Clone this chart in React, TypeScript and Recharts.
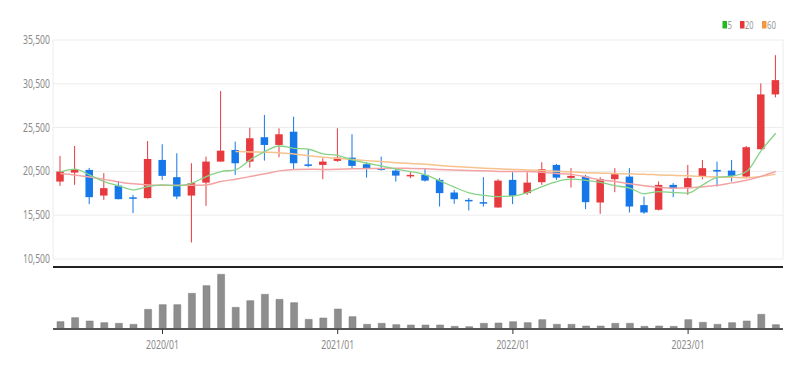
import React from 'react';
import { ComposedChart, Bar, Line, XAxis, YAxis, CartesianGrid } from 'recharts';

const months = [
  '2019/06', '2019/07', '2019/08', '2019/09', '2019/10', '2019/11', '2019/12',
  '2020/01', '2020/02', '2020/03', '2020/04', '2020/05', '2020/06', '2020/07', '2020/08', '2020/09', '2020/10', '2020/11', '2020/12',
  '2021/01', '2021/02', '2021/03', '2021/04', '2021/05', '2021/06', '2021/07', '2021/08', '2021/09', '2021/10', '2021/11', '2021/12',
  '2022/01', '2022/02', '2022/03', '2022/04', '2022/05', '2022/06', '2022/07', '2022/08', '2022/09', '2022/10', '2022/11', '2022/12',
  '2023/01', '2023/02', '2023/03', '2023/04', '2023/05', '2023/06', '2023/07',
];

const openPrices = [19340, 20360, 20670, 17740, 18880, 17540, 17450, 21810, 19840, 17740, 19220, 21620, 22950, 21620, 24400, 23520, 25030, 21300, 21240, 21700, 22070, 21320, 20870, 20590, 19990, 20100, 19530, 18090, 17250, 16990, 16380, 19530, 18020, 19270, 21240, 19760, 19910, 16950, 19610, 19910, 16650, 16120, 18960, 18590, 19910, 20670, 20590, 19910, 23030, 29290];
const highPrices = [22270, 23400, 20900, 20300, 19420, 17820, 23970, 23600, 22570, 21430, 22190, 29670, 23900, 25490, 26940, 25420, 26740, 22950, 22000, 25420, 24740, 21550, 22190, 20870, 20410, 20870, 19730, 18390, 17450, 19840, 19610, 20410, 20410, 21550, 21360, 20870, 20100, 19840, 20870, 20870, 17630, 19340, 19160, 21240, 21810, 21620, 21810, 23400, 30550, 33770];
const lowPrices = [18850, 18960, 16760, 17250, 17300, 15740, 17400, 19530, 17330, 12390, 16570, 21600, 20100, 20930, 21730, 22120, 20750, 20980, 19610, 21600, 20790, 19790, 20590, 19340, 19730, 19340, 16490, 16800, 16040, 16490, 16370, 16760, 17820, 18960, 19530, 18660, 16200, 15660, 18130, 15810, 15660, 16040, 17560, 17820, 19610, 18770, 19340, 19730, 23000, 28950];
const closePrices = [20480, 20750, 17560, 18590, 17330, 17370, 21920, 19990, 17630, 19160, 21620, 22870, 21430, 24280, 23520, 24740, 21430, 21180, 21620, 22070, 21130, 20790, 20670, 20020, 20100, 19450, 18020, 17330, 17140, 16830, 19450, 17710, 19220, 20750, 19790, 19990, 16990, 19610, 20180, 16490, 15810, 18960, 18590, 19730, 20870, 20480, 19990, 23260, 29290, 30920];

// moving averages
const ma5 = [20440, 20750, 20100, 19340, 18850, 18390, 18770, 18960, 18850, 19160, 19910, 20480, 20670, 21810, 22760, 23400, 23140, 23030, 22490, 22320, 21810, 21430, 21130, 20750, 20480, 20100, 19420, 18700, 18050, 17770, 17630, 17710, 18090, 18770, 19340, 19610, 19480, 19250, 18880, 18590, 17940, 18200, 18090, 18020, 18960, 19820, 19950, 20480, 22840, 24850];
const ma20 = [20270, 20100, 19870, 19590, 19300, 19080, 18960, 18910, 18910, 18910, 18960, 19340, 19610, 19910, 20220, 20560, 20730, 20750, 20730, 20750, 20790, 20820, 20840, 20870, 20840, 20790, 20730, 20670, 20610, 20560, 20500, 20480, 20480, 20390, 20270, 20160, 19870, 19530, 19360, 19080, 18850, 18680, 18590, 18620, 18740, 18910, 19190, 19480, 19930, 20480];
const ma60 = [null, null, null, null, null, null, null, null, null, null, null, null, 22760, 22720, 22690, 22640, 22490, 22300, 22120, 22000, 21870, 21730, 21620, 21500, 21410, 21320, 21180, 21050, 20960, 20870, 20790, 20730, 20670, 20590, 20520, 20440, 20360, 20300, 20260, 20220, 20180, 20100, 20050, 19990, 19930, 19870, 19820, 19780, 19930, 20160];

const volumes = [220000, 340000, 240000, 190000, 170000, 140000, 590000, 730000, 730000, 1070000, 1300000, 1640000, 650000, 850000, 1040000, 890000, 790000, 290000, 330000, 600000, 370000, 140000, 170000, 130000, 120000, 120000, 120000, 80000, 70000, 170000, 180000, 220000, 190000, 280000, 140000, 140000, 90000, 90000, 170000, 170000, 80000, 90000, 80000, 280000, 200000, 140000, 190000, 240000, 440000, 130000];

const priceTicks = [10500, 15500, 20500, 25500, 30500, 35500];
const yearTicks = ['2020/01', '2021/01', '2022/01', '2023/01'];

const RED = '#e63a3f';
const BLUE = '#1677e8';

const data = months.map((m, i) => ({
  month: m,
  open: openPrices[i],
  high: highPrices[i],
  low: lowPrices[i],
  close: closePrices[i],
  range: [lowPrices[i], highPrices[i]],
  ma5: ma5[i],
  ma20: ma20[i],
  ma60: ma60[i],
  volume: volumes[i],
}));

const Candle = (props: any) => {
  const { x, y, width, height, payload } = props;
  const top = Math.min(y, y + height);
  const h = Math.abs(height);
  const { open, close, high, low } = payload;
  const color = close >= open ? RED : BLUE;
  const ratio = h / (high - low);
  const yOf = (v: number) => top + (high - v) * ratio;
  const cx = x + width / 2;
  const bTop = yOf(Math.max(open, close));
  const bBot = yOf(Math.min(open, close));
  return (
    <g>
      <line x1={cx} x2={cx} y1={top} y2={top + h} stroke={color} strokeWidth={1} />
      <rect x={cx - 3.75} y={bTop} width={7.5} height={Math.max(bBot - bTop, 1.5)} fill={color} />
    </g>
  );
};

const PriceTick = (props: any) => {
  const { x, y, payload } = props;
  return (
    <text x={x} y={y} dy={4} textAnchor="end" fontSize={12} fill="#8a8a8a"
      textLength={27} lengthAdjust="spacingAndGlyphs" fontFamily="'Noto Sans', sans-serif">
      {payload.value.toLocaleString('en-US')}
    </text>
  );
};

const MonthTick = (props: any) => {
  const { x, y, payload } = props;
  return (
    <text x={x} y={y} dy={10} textAnchor="middle" fontSize={12.5} fill="#8a8a8a"
      textLength={33} lengthAdjust="spacingAndGlyphs" fontFamily="'Noto Sans', sans-serif">
      {payload.value}
    </text>
  );
};

const legendItems = [
  { label: '5', color: '#22b822', x: 22.5, tx: 27.5, w: 4.5 },
  { label: '20', color: '#e8353a', x: 40, tx: 45, w: 8.5 },
  { label: '60', color: '#f5973a', x: 62, tx: 67, w: 9 },
];

export default function App() {
  return (
    <div style={{ position: 'absolute', left: 0, top: 0, width: 804, height: 370, background: '#fff' }}>
      <div style={{ position: 'absolute', left: 0, top: 0 }}>
        <ComposedChart width={804} height={272} data={data} margin={{ top: 40, right: 21, bottom: 13, left: 0 }}>
          <CartesianGrid stroke="#ececec" />
          <XAxis dataKey="month" ticks={yearTicks} tick={false} axisLine={false} tickLine={false} height={0} />
          <YAxis domain={[10500, 35500]} ticks={priceTicks} width={53} axisLine={false} tickLine={false}
            tickSize={0} tickMargin={3} tick={<PriceTick />} interval={0} />
          <Line type="monotone" dataKey="ma60" stroke="#f6c28e" strokeWidth={1.5} dot={false} isAnimationActive={false} />
          <Line type="monotone" dataKey="ma20" stroke="#f4a3a3" strokeWidth={1.5} dot={false} isAnimationActive={false} />
          <Line type="monotone" dataKey="ma5" stroke="#86d386" strokeWidth={1.3} dot={false} isAnimationActive={false} />
          <Bar dataKey="range" barSize={8} shape={<Candle />} isAnimationActive={false} />
        </ComposedChart>
      </div>

      <svg style={{ position: 'absolute', left: 700, top: 0 }} width={104} height={40}>
        {legendItems.map((it) => (
          <g key={it.label}>
            <rect x={it.x} y={21} width={4.5} height={7.5} fill={it.color} />
            <text x={it.tx} y={28.5} fontSize={10.5} fill="#999" textLength={it.w}
              lengthAdjust="spacingAndGlyphs" fontFamily="'Noto Sans', sans-serif">{it.label}</text>
          </g>
        ))}
      </svg>

      <div style={{ position: 'absolute', left: 0, top: 262 }}>
        <ComposedChart width={804} height={108} data={data} margin={{ top: 7, right: 21, bottom: 0, left: 53 }}>
          <XAxis dataKey="month" ticks={yearTicks} interval={0} height={41} tickSize={5} tickMargin={5}
            axisLine={{ stroke: '#555', strokeWidth: 2 }} tickLine={{ stroke: '#333' }} tick={<MonthTick />} />
          <YAxis hide domain={[0, 1800000]} />
          <Bar dataKey="volume" barSize={7} fill="#8e8e8e" stroke="#7a7a7a" strokeWidth={0.5} isAnimationActive={false} />
        </ComposedChart>
      </div>

      <div style={{ position: 'absolute', left: 53, top: 266, width: 730, height: 2, background: '#222' }} />
    </div>
  );
}
